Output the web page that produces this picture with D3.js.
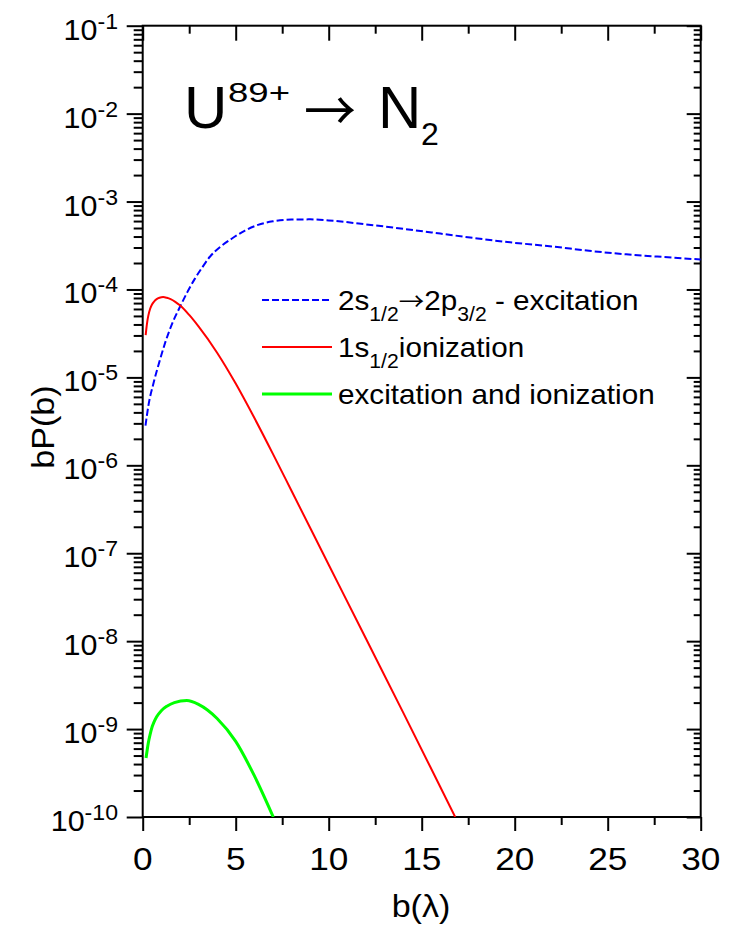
<!DOCTYPE html>
<html>
<head>
<meta charset="utf-8">
<script src="https://cdn.jsdelivr.net/npm/d3@7"></script>
<style>
body { margin: 0; background: #fff; }
svg { display: block; }
text { font-family: "Liberation Sans", Arial, Helvetica, sans-serif; fill: #000; }
.arrow { font-family: "Noto Sans CJK SC", "DejaVu Sans", sans-serif; }
</style>
</head>
<body>
<svg id="chart" width="740" height="936"></svg>
<script>
// 2s1/2 -> 2p3/2 excitation
var excB = [0.15, 0.3, 0.6, 0.9, 1.2, 1.6, 2.0, 2.4, 2.8, 3.2, 3.6, 4.2, 4.8, 5.5, 6.2, 7.0, 8.0, 9.0, 10, 12, 14, 16, 18, 20, 22, 24, 26, 28, 30];
var excP = [2.82e-6, 4.68e-6, 8.91e-6, 1.51e-5, 2.45e-5, 4.17e-5, 6.31e-5, 9.33e-5, 1.32e-4, 1.78e-4, 2.34e-4, 3.09e-4, 3.80e-4, 4.68e-4, 5.43e-4, 5.96e-4, 6.24e-4, 6.27e-4, 6.10e-4, 5.50e-4, 4.90e-4, 4.32e-4, 3.80e-4, 3.39e-4, 3.09e-4, 2.75e-4, 2.51e-4, 2.34e-4, 2.19e-4];
// 1s1/2 ionization
var ionB = [0.16, 0.2, 0.25, 0.3, 0.4, 0.5, 0.6, 0.75, 0.9, 1.1, 1.3, 1.5, 1.75, 2.0, 2.5, 3.0, 4.0, 5.0, 6.0, 7.0, 8.0, 10, 12, 14, 16, 16.8];
var ionP = [3.02e-5, 3.63e-5, 4.37e-5, 5.01e-5, 6.03e-5, 6.76e-5, 7.24e-5, 7.76e-5, 8.04e-5, 8.20e-5, 8.04e-5, 7.76e-5, 7.24e-5, 6.61e-5, 5.13e-5, 3.80e-5, 1.91e-5, 8.51e-6, 3.47e-6, 1.35e-6, 5.13e-7, 7.41e-8, 1.07e-8, 1.55e-9, 2.19e-10, 1.0e-10];
// excitation and ionization
var bothB = [0.18, 0.3, 0.4, 0.5, 0.6, 0.75, 1.0, 1.3, 1.7, 2.37, 3.0, 4.0, 5.0, 6.0, 7.02];
var bothP = [4.68e-10, 6.92e-10, 8.71e-10, 1.05e-9, 1.19e-9, 1.38e-9, 1.62e-9, 1.82e-9, 2.0e-9, 2.11e-9, 1.91e-9, 1.32e-9, 7.24e-10, 2.95e-10, 1.0e-10];

var xTicks = [0, 5, 10, 15, 20, 25, 30];
var yExps = [-1, -2, -3, -4, -5, -6, -7, -8, -9, -10];

var pl = 142.7, pr = 700.7, pt = 25.7, pb = 817;
var svg = d3.select("#chart");

var x = d3.scaleLinear().domain([0, 30]).range([pl, pr]);
var y = d3.scaleLog().domain([1e-10, 1e-1]).range([pb, pt]);

var yMajor = yExps.map(function (e) { return Math.pow(10, e); });
var yMinor = [];
yExps.slice(1).forEach(function (e) {
    for (var m = 2; m <= 9; m++) yMinor.push(m * Math.pow(10, e));
});
var xMinor = d3.range(2.5, 30, 5);

function axisG(axis, tx, ty) {
    var g = svg.append("g").attr("transform", "translate(" + tx + "," + ty + ")").call(axis);
    g.select(".domain").remove();
    g.selectAll("line").attr("stroke", "#000").attr("stroke-width", 2);
    return g;
}
// bottom / left ticks point outward, top / right point inward
axisG(d3.axisBottom(x).tickValues(xTicks).tickSize(14).tickSizeOuter(0).tickFormat(""), 0, pb);
axisG(d3.axisBottom(x).tickValues(xMinor).tickSize(8).tickSizeOuter(0).tickFormat(""), 0, pb);
axisG(d3.axisBottom(x).tickValues(xTicks).tickSize(15).tickSizeOuter(0).tickFormat(""), 0, pt);
axisG(d3.axisBottom(x).tickValues(xMinor).tickSize(8).tickSizeOuter(0).tickFormat(""), 0, pt);
axisG(d3.axisLeft(y).tickValues(yMajor).tickSize(16).tickSizeOuter(0).tickFormat(""), pl, 0);
axisG(d3.axisLeft(y).tickValues(yMinor).tickSize(9).tickSizeOuter(0).tickFormat(""), pl, 0);
axisG(d3.axisLeft(y).tickValues(yMajor).tickSize(14).tickSizeOuter(0).tickFormat(""), pr, 0);
axisG(d3.axisLeft(y).tickValues(yMinor).tickSize(7).tickSizeOuter(0).tickFormat(""), pr, 0);

svg.append("rect")
    .attr("x", pl).attr("y", pt)
    .attr("width", pr - pl).attr("height", pb - pt)
    .attr("fill", "none").attr("stroke", "#000").attr("stroke-width", 2);

// tick labels
svg.append("g").selectAll("text")
    .data(xTicks).enter().append("text")
    .attr("transform", function (d) { return "translate(" + x(d) + ",870) scale(1.1,1)"; })
    .attr("text-anchor", "middle")
    .style("font-size", "32px")
    .text(function (d) { return d; });

var yl = svg.append("g").selectAll("text")
    .data(yExps).enter().append("text")
    .attr("transform", function (d) { return "translate(118," + (y(Math.pow(10, d)) + 14) + ") scale(1.05,1)"; })
    .attr("text-anchor", "end")
    .style("font-size", "29px");
yl.append("tspan").text("10");
yl.append("tspan").attr("dy", -11).style("font-size", "22px").text(function (d) { return "-" + (-d); });

// axis titles
svg.append("text").attr("transform", "translate(421,917) scale(1.1,1)")
    .attr("text-anchor", "middle").style("font-size", "31px").text("b(\u03bb)");
svg.append("text").attr("transform", "translate(54,427) rotate(-90) scale(1.1,1)")
    .attr("text-anchor", "middle").style("font-size", "31px").text("bP(b)");

// curves
svg.append("clipPath").attr("id", "clip").append("rect")
    .attr("x", pl).attr("y", pt).attr("width", pr - pl).attr("height", pb - pt);

function curve(bs, ps, color, width, dash) {
    var pts = bs.map(function (b, i) { return [b, ps[i]]; });
    var line = d3.line()
        .x(function (d) { return x(d[0]); })
        .y(function (d) { return y(d[1]); })
        .curve(d3.curveMonotoneX);
    var p = svg.append("path").datum(pts)
        .attr("clip-path", "url(#clip)")
        .attr("d", line)
        .attr("fill", "none")
        .attr("stroke", color)
        .attr("stroke-width", width);
    if (dash) p.attr("stroke-dasharray", dash);
}
curve(excB, excP, "#0000ff", 2, "7,3");
curve(ionB, ionP, "#ff0000", 2);
curve(bothB, bothP, "#00ff00", 3);

// title
svg.append("text").attr("x", 184).attr("y", 128).style("font-size", "60px").text("U");
svg.append("text").attr("x", 228).attr("y", 102).style("font-size", "28px")
    .attr("textLength", 62).attr("lengthAdjust", "spacingAndGlyphs").text("89+");
svg.append("text").attr("class", "arrow").attr("x", 304).attr("y", 131)
    .attr("textLength", 52).attr("lengthAdjust", "spacingAndGlyphs")
    .style("font-size", "54px").text("\u2192");
svg.append("text").attr("x", 378).attr("y", 128).style("font-size", "60px").text("N");
svg.append("text").attr("x", 421).attr("y", 145).style("font-size", "32px").text("2");

// legend
var legend = [
    { parts: [["2s", 0], ["1/2", 1], ["\u2192", 2], ["2p", 0], ["3/2", 1], [" - excitation", 0]], color: "#0000ff", width: 2, dash: "7,3" },
    { parts: [["1s", 0], ["1/2", 1], ["ionization", 0]], color: "#ff0000", width: 2 },
    { parts: [["excitation and ionization", 0]], color: "#00ff00", width: 3 }
];
legend.forEach(function (row, i) {
    var by = 310 + i * 47;
    var ln = svg.append("line")
        .attr("x1", 262).attr("x2", 332).attr("y1", by - 10).attr("y2", by - 10)
        .attr("stroke", row.color).attr("stroke-width", row.width);
    if (row.dash) ln.attr("stroke-dasharray", row.dash);
    var t = svg.append("text").attr("transform", "translate(338," + by + ") scale(1.06,1)")
        .style("font-size", "28px");
    var sub = 0;
    row.parts.forEach(function (p) {
        var isSub = p[1] === 1;
        var dy = isSub ? 11 : (sub ? -11 : 0);
        sub = isSub;
        var ts = t.append("tspan").attr("dy", dy)
            .style("font-size", isSub ? "20px" : "28px")
            .text(p[0]);
        if (p[1] === 2) ts.attr("class", "arrow").style("font-size", "24px");
    });
});
</script>
</body>
</html>
